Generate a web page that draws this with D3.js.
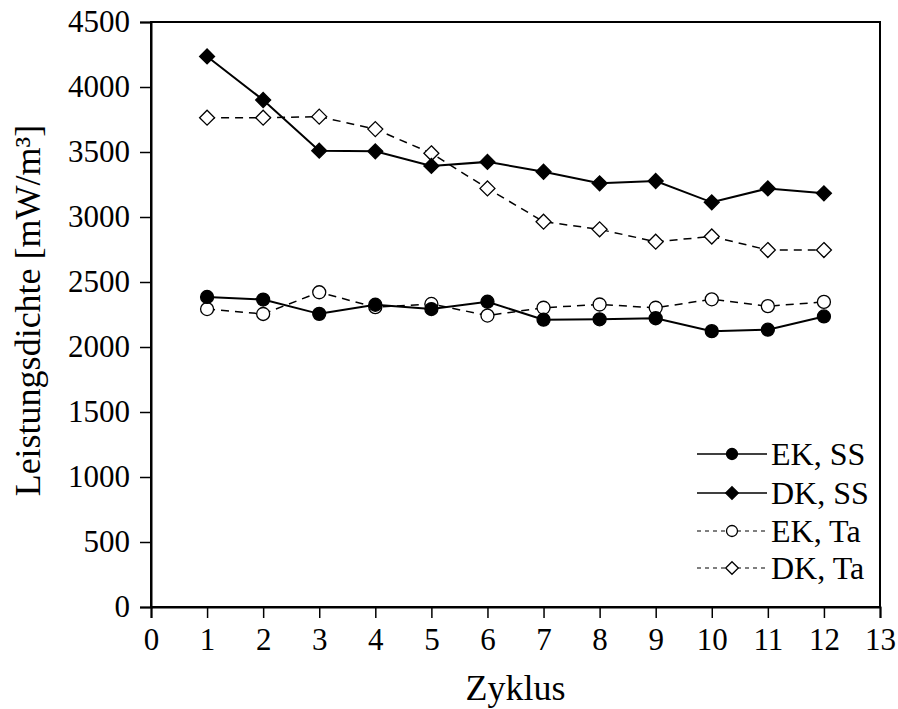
<!DOCTYPE html>
<html>
<head>
<meta charset="utf-8">
<script src="https://cdn.jsdelivr.net/npm/d3@7"></script>
<style>
  body { margin: 0; background: #fff; }
  text { font-family: "Liberation Serif", "DejaVu Serif", serif; fill: #000; }
</style>
</head>
<body>
<svg id="chart" width="898" height="709"></svg>
<script>
const cycles = [1, 2, 3, 4, 5, 6, 7, 8, 9, 10, 11, 12]
const ekSS = [2385, 2365, 2255, 2325, 2292, 2348, 2210, 2213, 2221, 2122, 2133, 2235]
const dkSS = [4235, 3900, 3510, 3505, 3393, 3424, 3348, 3259, 3277, 3113, 3220, 3182]
const ekTa = [2292, 2254, 2421, 2306, 2331, 2242, 2302, 2327, 2302, 2367, 2314, 2347]
const dkTa = [3764, 3764, 3772, 3676, 3490, 3220, 2964, 2905, 2810, 2850, 2746, 2746]
const xTicks = d3.range(0, 14)
const yTicks = d3.range(0, 4501, 500)

const seriesList = [
  { name: 'EK, SS', values: ekSS, shape: 'circle', filled: true, dashed: false },
  { name: 'DK, SS', values: dkSS, shape: 'diamond', filled: true, dashed: false },
  { name: 'EK, Ta', values: ekTa, shape: 'circle', filled: false, dashed: true },
  { name: 'DK, Ta', values: dkTa, shape: 'diamond', filled: false, dashed: true }
]

const margin = { left: 151, right: 18, top: 22, bottom: 102 }
const width = 898, height = 709
const svg = d3.select('#chart')

const x = d3.scaleLinear().domain([0, 13]).range([margin.left, width - margin.right])
const y = d3.scaleLinear().domain([0, 4500]).range([height - margin.bottom, margin.top])

// frame
svg.append('rect')
  .attr('x', x(0)).attr('y', y(4500))
  .attr('width', x(13) - x(0)).attr('height', y(0) - y(4500))
  .attr('fill', 'none').attr('stroke', '#000').attr('stroke-width', 2)

const xAxis = svg.append('g')
  .attr('transform', `translate(0,${y(0)})`)
  .call(d3.axisBottom(x).tickValues(xTicks).tickSize(11).tickPadding(10).tickFormat(d3.format('d')))
xAxis.select('.domain').attr('stroke-width', 2)
xAxis.selectAll('line').attr('stroke-width', 1.5)
xAxis.selectAll('text').style('font-size', '31px')

const yAxis = svg.append('g')
  .attr('transform', `translate(${x(0)},0)`)
  .call(d3.axisLeft(y).tickValues(yTicks).tickSize(11).tickPadding(10).tickFormat(d3.format('d')))
yAxis.select('.domain').attr('stroke-width', 2)
yAxis.selectAll('line').attr('stroke-width', 1.5)
yAxis.selectAll('text').style('font-size', '31px')

svg.append('text')
  .attr('x', (x(0) + x(13)) / 2).attr('y', 700)
  .attr('text-anchor', 'middle')
  .style('font-size', '36px')
  .text('Zyklus')

svg.append('text')
  .attr('transform', `translate(40,${(y(0) + y(4500)) / 2 - 4}) rotate(-90)`)
  .attr('text-anchor', 'middle')
  .style('font-size', '36px')
  .text('Leistungsdichte [mW/m³]')

function drawMarker(g, shape, filled, size) {
  if (shape === 'circle') {
    g.append('circle').attr('r', size)
  } else {
    const s = size * 1.15
    g.append('path').attr('d', `M0,${-s}L${s},0L0,${s}L${-s},0Z`)
  }
  g.selectAll('circle,path')
    .attr('fill', filled ? '#000' : '#fff')
    .attr('stroke', '#000')
    .attr('stroke-width', 1.3)
}

const line = d3.line().x((d) => x(d[0])).y((d) => y(d[1]))

// draw dashed series first, solid on top
const order = [3, 2, 1, 0]
order.forEach((i) => {
  const s = seriesList[i]
  const pts = cycles.map((c, k) => [c, s.values[k]])
  svg.append('path')
    .datum(pts)
    .attr('d', line)
    .attr('fill', 'none')
    .attr('stroke', '#000')
    .attr('stroke-width', s.dashed ? 1.5 : 2)
    .attr('stroke-dasharray', s.dashed ? '8,6' : null)

  svg.append('g')
    .selectAll('g')
    .data(pts)
    .enter()
    .append('g')
    .attr('transform', (d) => `translate(${x(d[0])},${y(d[1])})`)
    .each(function () { drawMarker(d3.select(this), s.shape, s.filled, 6.5) })
})

// legend
const legendRows = [454, 493, 531, 568]
seriesList.forEach((s, i) => {
  const g = svg.append('g').attr('transform', `translate(0,${legendRows[i]})`)
  g.append('line')
    .attr('x1', 697).attr('x2', 767)
    .attr('stroke', '#000')
    .attr('stroke-width', s.dashed ? 1.2 : 1.5)
    .attr('stroke-dasharray', s.dashed ? '4,4' : null)
  const m = g.append('g').attr('transform', 'translate(732,0)')
  drawMarker(m, s.shape, s.filled, 5.5)
  g.append('text')
    .attr('x', 771).attr('y', 11)
    .style('font-size', '32px')
    .text(s.name)
})
</script>
</body>
</html>
